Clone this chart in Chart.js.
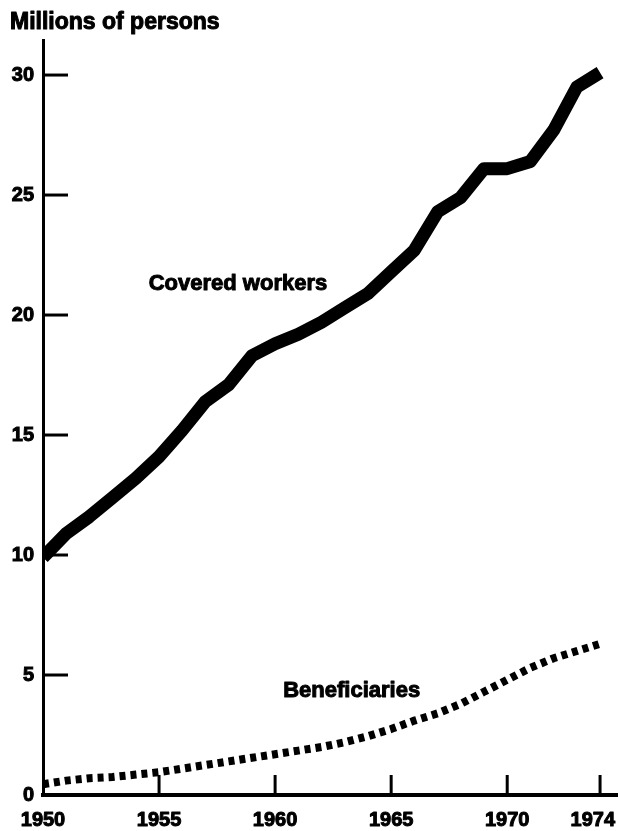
<!DOCTYPE html>
<html>
<head>
<meta charset="utf-8">
<script src="https://cdn.jsdelivr.net/npm/chart.js"></script>
<style>
  html, body { margin: 0; padding: 0; background: #fff; }
  canvas { display: block; }
</style>
</head>
<body>
<canvas id="chart" width="618" height="831"></canvas>
<script>
const years = [1950, 1951, 1952, 1953, 1954, 1955, 1956, 1957, 1958, 1959, 1960, 1961,
               1962, 1963, 1964, 1965, 1966, 1967, 1968, 1969, 1970, 1971, 1972, 1973, 1974];
const coveredWorkers = [9.9, 10.9, 11.6, 12.4, 13.2, 14.1, 15.2, 16.4, 17.1, 18.3, 18.8, 19.2,
                        19.7, 20.3, 20.9, 21.8, 22.7, 24.3, 24.9, 26.1, 26.1, 26.4, 27.7, 29.5, 30.1];
const beneficiaries = [0.45, 0.6, 0.7, 0.75, 0.85, 0.95, 1.1, 1.25, 1.4, 1.55, 1.7, 1.85,
                       2.0, 2.2, 2.45, 2.75, 3.1, 3.4, 3.8, 4.3, 4.8, 5.3, 5.7, 6.0, 6.3];
const yTicks = [0, 5, 10, 15, 20, 25, 30];
const xTicks = [1950, 1955, 1960, 1965, 1970, 1974];
const yTitle = "Millions of persons";
const seriesLabels = ["Covered workers", "Beneficiaries"];

const FONT = '"Liberation Sans", Arial, sans-serif';

function heavyText(ctx, text, px, py) {
  ctx.strokeText(text, px, py);
  ctx.fillText(text, px, py);
}

const extras = {
  id: "extras",
  afterDraw(chart) {
    const ctx = chart.ctx;
    const x = chart.scales.x, y = chart.scales.y;
    ctx.save();
    ctx.fillStyle = "#000";
    ctx.strokeStyle = "#000";
    ctx.lineJoin = "round";

    // y title
    ctx.lineWidth = 1;
    ctx.font = "bold 23px " + FONT;
    ctx.textAlign = "left";
    ctx.textBaseline = "alphabetic";
    heavyText(ctx, yTitle, 10, 29);

    // x tick labels (last one kept inside the canvas)
    ctx.font = "bold 20px " + FONT;
    ctx.textAlign = "center";
    ctx.textBaseline = "middle";
    xTicks.forEach(v => {
      let px = x.getPixelForValue(v);
      const half = ctx.measureText(String(v)).width / 2;
      if (px + half > chart.width - 3) px = chart.width - 3 - half;
      heavyText(ctx, String(v), px, y.bottom + 25);
    });

    // inner tick marks
    ctx.lineWidth = 3;
    ctx.lineJoin = "miter";
    yTicks.forEach(v => {
      if (v === 0) return;
      const py = y.getPixelForValue(v);
      ctx.beginPath();
      ctx.moveTo(x.left, py);
      ctx.lineTo(x.left + 25, py);
      ctx.stroke();
    });
    xTicks.forEach(v => {
      if (v === 1950) return;
      const px = x.getPixelForValue(v);
      ctx.beginPath();
      ctx.moveTo(px, y.bottom);
      ctx.lineTo(px, y.bottom - 20);
      ctx.stroke();
    });

    // series labels
    ctx.lineWidth = 1;
    ctx.lineJoin = "round";
    ctx.font = "bold 22px " + FONT;
    ctx.textAlign = "center";
    ctx.textBaseline = "middle";
    heavyText(ctx, seriesLabels[0], x.getPixelForValue(1958.4), y.getPixelForValue(21.3));
    heavyText(ctx, seriesLabels[1], x.getPixelForValue(1963.3), y.getPixelForValue(4.35));
    ctx.restore();
  }
};

new Chart(document.getElementById("chart"), {
  type: "line",
  data: {
    datasets: [
      {
        label: seriesLabels[0],
        data: years.map((yr, i) => ({ x: yr, y: coveredWorkers[i] })),
        borderColor: "#000",
        borderWidth: 13,
        borderCapStyle: "butt",
        borderJoinStyle: "round",
        pointRadius: 0,
        tension: 0
      },
      {
        label: seriesLabels[1],
        data: years.map((yr, i) => ({ x: yr, y: beneficiaries[i] })),
        borderColor: "#000",
        borderWidth: 8,
        borderDash: [6, 5],
        borderCapStyle: "butt",
        pointRadius: 0,
        tension: 0
      }
    ]
  },
  options: {
    responsive: false,
    devicePixelRatio: 1,
    animation: false,
    events: [],
    layout: { padding: { top: 40, right: 1, left: 0, bottom: 0 } },
    plugins: { legend: { display: false }, tooltip: { enabled: false }, title: { display: false } },
    scales: {
      x: {
        type: "linear",
        min: 1950,
        max: 1974.73,
        afterBuildTicks: s => { s.ticks = xTicks.map(v => ({ value: v })); },
        afterFit: s => { s.height = 36; s.paddingLeft = 0; s.paddingRight = 0; },
        grid: { display: false, drawTicks: false },
        border: { display: true, color: "#000", width: 4 },
        ticks: { display: false }
      },
      y: {
        min: 0,
        max: 31.46,
        afterBuildTicks: s => { s.ticks = yTicks.map(v => ({ value: v })); },
        afterFit: s => { s.width = 43; s.paddingTop = 0; s.paddingBottom = 0; },
        grid: { display: false, drawTicks: false },
        border: { display: true, color: "#000", width: 3 },
        ticks: {
          color: "#000",
          font: { family: FONT, size: 20, weight: "bold" },
          textStrokeColor: "#000",
          textStrokeWidth: 1,
          padding: 9,
          autoSkip: false,
          callback: v => String(v)
        }
      }
    }
  },
  plugins: [extras]
});
</script>
</body>
</html>
